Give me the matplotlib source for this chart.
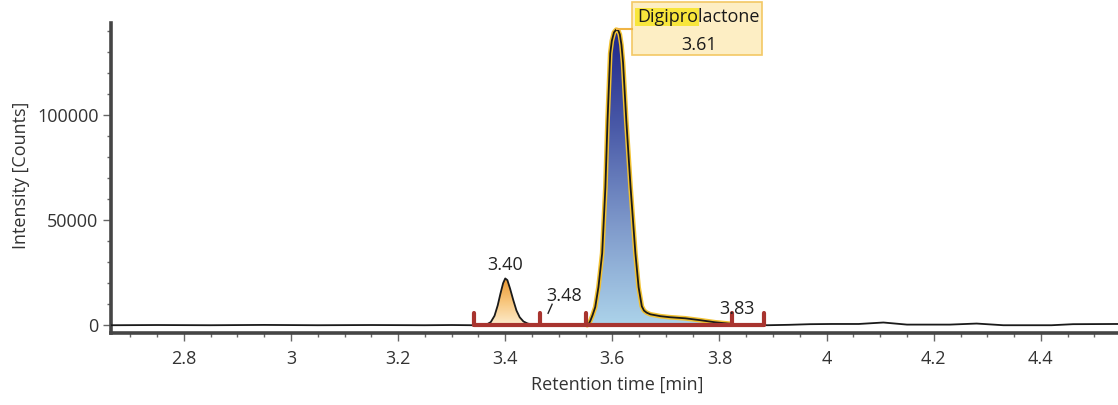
import matplotlib
matplotlib.use('Agg')
import matplotlib.pyplot as plt
from matplotlib.colors import LinearSegmentedColormap
from matplotlib.patches import Rectangle
from matplotlib.ticker import MultipleLocator
from matplotlib.transforms import IdentityTransform
import numpy as np

# chromatogram trace: retention time [min], intensity [counts]
rt = [2.665, 2.75, 2.85, 2.95, 3.05, 3.15, 3.25, 3.30, 3.34,
      3.355, 3.365, 3.373, 3.380, 3.386, 3.391, 3.396, 3.400, 3.404, 3.409,
      3.415, 3.421, 3.427, 3.434, 3.442, 3.452, 3.465,
      3.472, 3.480, 3.490, 3.505, 3.520, 3.535, 3.547,
      3.553, 3.556, 3.559, 3.563, 3.568, 3.574, 3.581, 3.587, 3.591, 3.596, 3.599, 3.603,
      3.607, 3.611, 3.614, 3.617, 3.620, 3.626, 3.634, 3.643, 3.649, 3.655,
      3.659, 3.664, 3.671, 3.690, 3.708, 3.736, 3.764, 3.792, 3.820, 3.835, 3.850,
      3.870, 3.889,
      3.930, 3.969, 4.010, 4.060, 4.106, 4.150, 4.230, 4.280, 4.330, 4.420,
      4.460, 4.544]
intensity = [0, 100, 0, 150, 0, 100, 0, 100, 0,
             0, 300, 1500, 4500, 9500, 15000, 20000, 22300, 21500, 17500,
             12000, 7000, 3800, 1800, 800, 300, 100,
             300, 500, 450, 300, 200, 100, 0,
             0, 700, 2200, 4800, 8600, 18100, 34300, 65700, 97600, 129500, 135500, 139500,
             140800, 140500, 138500, 133500, 125000, 97600, 65700, 34300, 18100, 9000,
             7000, 6000, 5200, 4300, 3800, 3300, 2400, 1400, 700, 500, 400,
             300, 0,
             200, 500, 600, 600, 1300, 300, 300, 800, 0, 0,
             500, 600]

# integration windows (start, end) and peak labels
windows = [(3.342, 3.465), (3.465, 3.551), (3.551, 3.824), (3.824, 3.884)]
peak_rt = [3.40, 3.48, 3.61, 3.83]
compound = 'Digiprolactone'

rt = np.array(rt)
intensity = np.array(intensity)

plt.rcParams['font.family'] = ['Open Sans', 'DejaVu Sans']
plt.rcParams['font.size'] = 13
txt_col = '#333333'

fig = plt.figure(figsize=(11.18, 4.05), dpi=100)
ax = fig.add_axes([111 / 1118, 72 / 405, 1007 / 1118, 310 / 405])


def grad_fill(lo, hi, colors):
    m = (rt >= lo - 1e-9) & (rt <= hi + 1e-9)
    t = rt[m]
    y = intensity[m]
    poly = ax.fill_between(t, 0, y, color='none', lw=0)
    cmap = LinearSegmentedColormap.from_list('g', colors)
    img = ax.imshow(np.linspace(0, 1, 256).reshape(-1, 1), cmap=cmap, aspect='auto',
                    origin='lower', extent=[t[0], t[-1], 0, y.max()], zorder=1)
    img.set_clip_path(poly.get_paths()[0], transform=ax.transData)
    return t, y


# small peak (orange) and main peak (blue)
grad_fill(windows[0][0], windows[0][1], ['#fdeccd', '#f8c67c', '#ea962f'])
t_main, y_main = grad_fill(windows[2][0], windows[2][1], ['#acd3ea', '#7f9acb', '#4a5aa8', '#1f278a'])

ax.plot(t_main, y_main, color='#f2c232', lw=3.4, zorder=2, solid_capstyle='round',
        solid_joinstyle='round')
ax.plot(rt, intensity, color='#1a1a1a', lw=1.3, zorder=3, solid_joinstyle='round')

# integration bars
bar_col = '#a8342f'
ax.plot([windows[0][0], windows[-1][1]], [0, 0], color=bar_col, lw=3, zorder=4,
        solid_capstyle='round')
edges = sorted(set([w[0] for w in windows] + [w[1] for w in windows]))
for e in edges:
    ax.plot([e, e], [0, 5800], color=bar_col, lw=3, zorder=4, solid_capstyle='round')

# peak labels
ax.text(peak_rt[0], 28600, '%.2f' % peak_rt[0], ha='center', va='center', color='#222222')
ax.text(3.510, 13800, '%.2f' % peak_rt[1], ha='center', va='center', color='#222222')
ax.plot([3.480, 3.4875], [5700, 10000], color='#222222', lw=1)
ax.text(3.832, 7600, '%.2f' % peak_rt[3], ha='center', va='center', color='#222222', zorder=5)

# compound callout
box_l, box_r, box_b, box_t = 3.637, 3.880, 128600, 153800
ax.add_patch(Rectangle((box_l, box_b), box_r - box_l, box_t - box_b, facecolor='#fdeec4',
                       edgecolor='#f3c865', lw=1.2, clip_on=False, zorder=5))
ax.plot([3.609, box_l], [141300, 141300], color='#f0b445', lw=1.5, clip_on=False, zorder=5)
name_t = ax.text(3.7614, 146700, compound, ha='center', va='center', color='#1a1a1a',
                 clip_on=False, zorder=7)
ax.text(3.7614, 133700, '%.2f' % peak_rt[2], ha='center', va='center', color='#1a1a1a',
        clip_on=False, zorder=7)

# axes styling
ax.set_xlim(2.664, 4.544)
ax.set_ylim(-3700, 144000)
for s in ['top', 'right']:
    ax.spines[s].set_visible(False)
for s in ['left', 'bottom']:
    ax.spines[s].set_linewidth(2.6)
    ax.spines[s].set_color('#454545')
ax.xaxis.set_major_locator(MultipleLocator(0.2))
ax.xaxis.set_minor_locator(MultipleLocator(0.05))
ax.yaxis.set_major_locator(MultipleLocator(50000))
ax.yaxis.set_minor_locator(MultipleLocator(10000))
ax.set_xticks([2.8, 3.0, 3.2, 3.4, 3.6, 3.8, 4.0, 4.2, 4.4])
ax.set_xticklabels(['2.8', '3', '3.2', '3.4', '3.6', '3.8', '4', '4.2', '4.4'])
ax.tick_params(which='major', length=6, width=1, color='#666666', labelcolor=txt_col, pad=3)
ax.tick_params(which='minor', length=3, width=1, color='#666666')
ax.tick_params(axis='x', which='major', pad=6)

fig.text(617 / 1118, 1 - 385 / 405, 'Retention time [min]', ha='center', va='center', color=txt_col)
fig.text(21 / 1118, 1 - 175 / 405, 'Intensity [Counts]', ha='center', va='center',
         rotation=90, color=txt_col)

# yellow highlight behind the start of the compound name
r = fig.canvas.get_renderer()
full = name_t.get_window_extent(r)
tmp = ax.text(0, 0, compound[:7], transform=IdentityTransform())
part = tmp.get_window_extent(r)
tmp.remove()
cy = (full.y0 + full.y1) / 2
ax.add_patch(Rectangle((full.x0 - 3, cy - 9), part.width + 3, 18, transform=IdentityTransform(),
                       facecolor='#f8e63c', edgecolor='none', zorder=6, clip_on=False))

fig.savefig('out.png', dpi=100)
